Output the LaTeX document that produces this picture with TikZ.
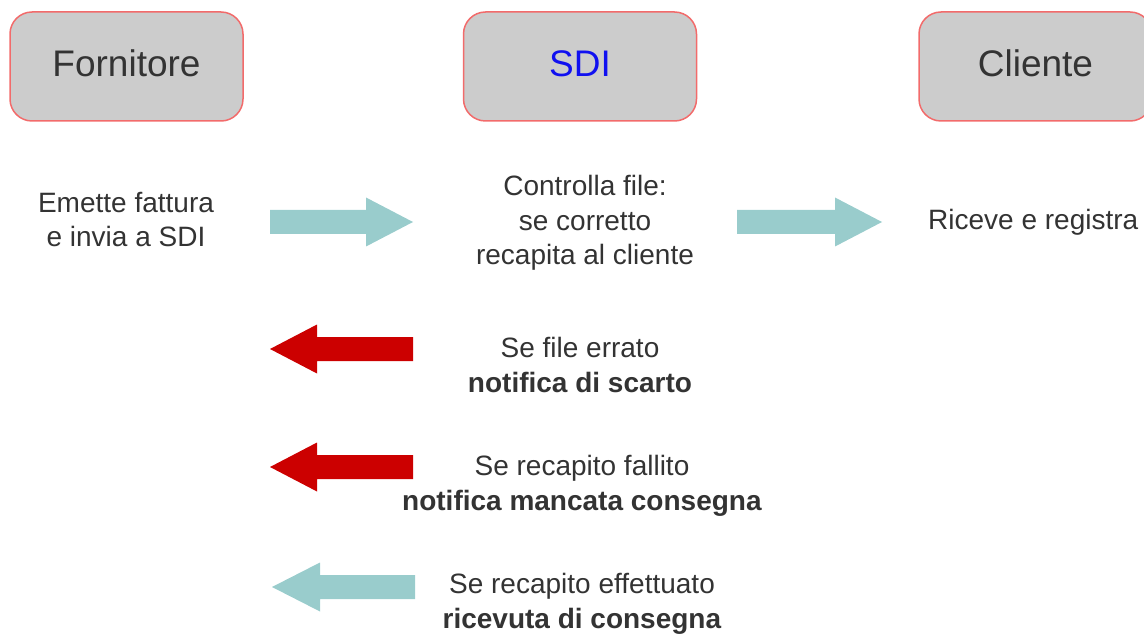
\documentclass[tikz,border=0pt]{standalone}
\usepackage{fontspec}
\setmainfont{Liberation Sans}
\definecolor{boxfill}{HTML}{CCCCCC}
\definecolor{boxline}{HTML}{F26B6B}
\definecolor{arrteal}{HTML}{99CCCC}
\definecolor{arrred}{HTML}{CC0000}
\definecolor{txtgray}{HTML}{333333}
\definecolor{sdiblue}{HTML}{1010F0}
\newcommand\blockarrow[5]{% style, tail x, head base x, tip x, y
  \fill[#1] ({#2},{#5-12}) -- ({#3},{#5-12}) -- ({#3},{#5-24.5}) -- ({#4},{#5})
    -- ({#3},{#5+24.5}) -- ({#3},{#5+12}) -- ({#2},{#5+12}) -- cycle;}
\begin{document}
\begin{tikzpicture}[x=1pt,y=-1pt,
  hbox/.style={draw=boxline, line width=1.5pt, fill=boxfill, rounded corners=22pt,
    minimum width=233pt, minimum height=109pt, inner sep=0pt,
    text height=27pt, text depth=7pt, font=\fontsize{37}{44}\selectfont, text=txtgray},
  body/.style={align=center, inner sep=0pt, text=txtgray,
    font=\fontsize{28}{34.5}\selectfont},
  goodarrow/.style={fill=arrteal},
  badarrow/.style={fill=arrred}]
\useasboundingbox (0,0) rectangle (1144,639);
\clip (0,0) rectangle (1144,639);
% header boxes
\node[hbox] (forn) at (126.5,66.5) {Fornitore};
\node[hbox, text=sdiblue] (sdi) at (580,66.5) {SDI};
\node[hbox] (cli) at (1035.5,66.5) {Cliente};
% block arrows
\blockarrow{goodarrow}{270}{366}{413}{222}
\blockarrow{goodarrow}{737}{835}{882}{222}
\blockarrow{badarrow}{413}{317}{270}{349}
\blockarrow{badarrow}{413}{317}{270}{467}
\blockarrow{goodarrow}{415}{320}{272}{587}
% texts (base anchor = baseline of last line)
\node[body, anchor=base] (t1) at (126,247) {Emette fattura\\e invia a SDI};
\node[body, anchor=base] (t2) at (585,265) {Controlla file:\\se corretto\\recapita al cliente};
\node[body, anchor=base west] (t3) at (928,230) {Riceve e registra};
\node[body, anchor=base] (t4) at (580,392) {Se file errato\\\textbf{notifica di scarto}};
\node[body, anchor=base] (t5) at (582,510) {Se recapito fallito\\\textbf{notifica mancata consegna}};
\node[body, anchor=base] (t6) at (582,628) {Se recapito effettuato\\\textbf{ricevuta di consegna}};
\end{tikzpicture}
\end{document}
